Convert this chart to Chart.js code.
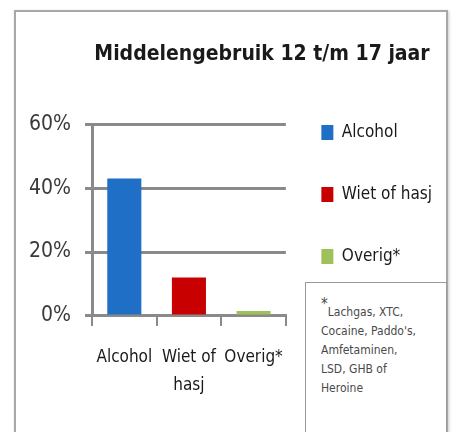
<!DOCTYPE html>
<html>
<head>
<meta charset="utf-8">
<script src="https://cdn.jsdelivr.net/npm/chart.js@4"></script>
<style>
  body { margin: 0; background: #fff; }
  #wrap { position: relative; width: 452px; height: 432px; overflow: hidden; }
  #frame { position: absolute; left: 14px; top: 10px; width: 430px; height: 440px;
           border: 2px solid #a8a8a8; box-shadow: 1px 1px 3px #ccc; }
  #note { position: absolute; left: 305px; top: 282px; width: 125px; height: 160px;
          border: 1px solid #9a9a9a; background: #fff; padding: 14px 0 0 15px;
          font-family: "DejaVu Sans Condensed", sans-serif;
          font-size: 12px; line-height: 19px; color: #4a4a4a; }
  #note sup { font-size: 15px; position: relative; top: -2px; }
  canvas { position: absolute; left: 0; top: 0; }
</style>
</head>
<body>
<div id="wrap">
  <div id="frame"></div>
  <canvas id="bar" width="452" height="432"></canvas>
  <div id="note"><sup>*</sup>Lachgas, XTC,<br>Cocaine, Paddo's,<br>Amfetaminen,<br>LSD, GHB of<br>Heroine</div>
</div>
<script>
var categories = [["Alcohol"], ["Wiet of", "hasj"], ["Overig*"]];
var legendLabels = ["Alcohol", "Wiet of hasj", "Overig*"];
var shares = [43, 12, 1.5];
var colors = ["#1f6fc6", "#c80000", "#9fc05a"];
var yTicks = [0, 20, 40, 60];

var font = "'DejaVu Sans Condensed', sans-serif";

new Chart(document.getElementById("bar"), {
  type: "bar",
  data: {
    labels: categories,
    datasets: [{
      label: "Middelengebruik",
      data: shares,
      backgroundColor: colors,
      borderWidth: 0,
      barPercentage: 0.62,
      categoryPercentage: 0.85
    }]
  },
  options: {
    responsive: false,
    animation: false,
    layout: { padding: { top: 40, left: 82, right: 10, bottom: 14 } },
    plugins: {
      title: {
        display: true,
        text: "Middelengebruik 12 t/m 17 jaar",
        color: "#1a1a1a",
        font: { family: font, size: 21, weight: "bold" },
        padding: { top: 2, bottom: 57 }
      },
      legend: {
        position: "right",
        align: "start",
        maxWidth: 200,
        title: { display: true, text: "", padding: { top: 34, bottom: 0 } },
        labels: {
          boxWidth: 12,
          boxHeight: 15,
          padding: 35.5,
          color: "#1a1a1a",
          font: { family: font, size: 17, lineHeight: 1.56 },
          generateLabels: function (chart) {
            return legendLabels.map(function (t, i) {
              return { text: [t], fillStyle: colors[i], strokeStyle: colors[i],
                       fontColor: "#1a1a1a", lineWidth: 0, index: i };
            });
          }
        }
      },
      tooltip: { enabled: false }
    },
    scales: {
      y: {
        min: 0,
        max: 60,
        afterBuildTicks: function (axis) {
          axis.ticks = yTicks.map(function (v) { return { value: v }; });
        },
        // labels sit left of a narrow axis box so the title can stay centred like the original
        afterFit: function (axis) { axis.width = 10; },
        ticks: {
          mirror: true,
          crossAlign: "far",
          padding: -63,
          color: "#3a3a3a",
          font: { family: font, size: 21 },
          callback: function (v) { return v + "%"; }
        },
        grid: { color: "#8a8a8a", lineWidth: 3, tickLength: 7 },
        border: { color: "#8a8a8a", width: 3 }
      },
      x: {
        ticks: {
          color: "#1a1a1a",
          padding: 18,
          font: { family: font, size: 17, lineHeight: 1.65 },
          maxRotation: 0
        },
        grid: { color: "#8a8a8a", lineWidth: 2, drawOnChartArea: false, tickLength: 10 },
        border: { color: "#8a8a8a", width: 3 }
      }
    }
  }
});
</script>
</body>
</html>
